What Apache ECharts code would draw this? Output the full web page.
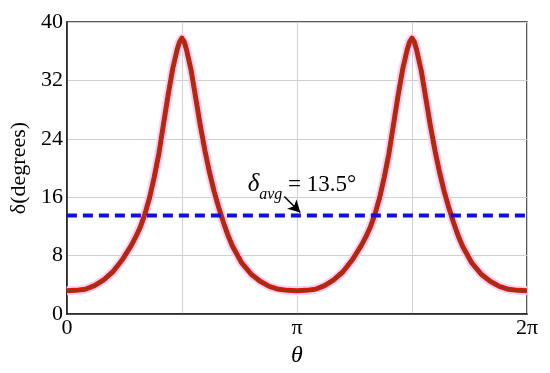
<!DOCTYPE html>
<html>
<head>
<meta charset="utf-8">
<script src="https://cdn.jsdelivr.net/npm/echarts@6/dist/echarts.min.js"></script>
<style>html,body{margin:0;padding:0;background:#fff}#c{width:550px;height:373px}</style>
</head>
<body>
<div id="c"></div>
<script>
// theta in units of pi, delta in degrees
var thetaOverPi = [
  0, 0.04, 0.08, 0.12, 0.16, 0.20, 0.24, 0.28, 0.30, 0.32, 0.34, 0.36, 0.38, 0.40, 0.42, 0.44, 0.46, 0.48, 0.49, 0.50,
  0.51, 0.52, 0.54, 0.56, 0.58, 0.60, 0.62, 0.64, 0.66, 0.68, 0.70, 0.72, 0.76, 0.80, 0.84, 0.88, 0.92, 0.96,
  1.00, 1.04, 1.08, 1.12, 1.16, 1.20, 1.24, 1.28, 1.30, 1.32, 1.34, 1.36, 1.38, 1.40, 1.42, 1.44, 1.46, 1.48, 1.49, 1.50,
  1.51, 1.52, 1.54, 1.56, 1.58, 1.60, 1.62, 1.64, 1.66, 1.68, 1.70, 1.72, 1.76, 1.80, 1.84, 1.88, 1.92, 1.96, 2.00];
var delta = [
  3.2, 3.25, 3.4, 3.9, 4.7, 5.8, 7.4, 9.4, 10.6, 12.0, 13.8, 16.0, 18.8, 22.0, 26.0, 30.0, 33.6, 36.3, 37.3, 37.8,
  37.3, 36.2, 33.4, 29.6, 25.8, 22.4, 19.4, 16.8, 14.6, 12.6, 10.8, 9.3, 7.0, 5.5, 4.5, 3.8, 3.4, 3.25,
  3.2, 3.25, 3.4, 3.9, 4.7, 5.8, 7.4, 9.4, 10.6, 12.0, 13.8, 16.0, 18.8, 22.0, 26.0, 30.0, 33.6, 36.3, 37.3, 37.8,
  37.3, 36.2, 33.4, 29.6, 25.8, 22.4, 19.4, 16.8, 14.6, 12.6, 10.8, 9.3, 7.0, 5.5, 4.5, 3.8, 3.4, 3.25, 3.2];
var deltaAvg = 13.5;
var xTickLabels = ['0', '', 'π', '', '2π'];
var yTicks = [0, 8, 16, 24, 32, 40];
var annotationText = ['δ', 'avg', ' = 13.5°'];
var annotationAnchor = [3.21, 18.0];
var arrowFrom = [2.969, 16.1];
var arrowTo = [3.187, 13.9];

var PI = Math.PI;
var curve = thetaOverPi.map(function (t, i) { return [t * PI, delta[i]]; });
var avgLine = [[0, deltaAvg], [2 * PI, deltaAvg]];
var serif = 'Liberation Serif, Times New Roman, serif';

var chart = echarts.init(document.getElementById('c'), null, {renderer: 'canvas'});
chart.setOption({
  animation: false,
  grid: {left: 65, right: 23, top: 22, bottom: 48, show: true, borderColor: '#222', borderWidth: 1.5, backgroundColor: 'transparent'},
  xAxis: {
    type: 'value', min: 0, max: 2 * PI, interval: PI / 2,
    axisLine: {show: true, lineStyle: {color: '#222', width: 1.5}},
    axisTick: {show: false},
    splitLine: {show: true, lineStyle: {color: '#d0d0d0', width: 1}},
    axisLabel: {
      margin: 3, color: '#000', fontFamily: serif, fontSize: 22,
      formatter: function (v) { return xTickLabels[Math.round(v / (PI / 2))] || ''; }
    },
    name: 'θ', nameLocation: 'middle', nameGap: 19,
    nameTextStyle: {fontFamily: serif, fontStyle: 'italic', fontSize: 24, color: '#000'}
  },
  yAxis: {
    type: 'value', min: yTicks[0], max: yTicks[yTicks.length - 1], interval: 8,
    axisLine: {show: true, lineStyle: {color: '#222', width: 1.5}},
    axisTick: {show: false},
    splitLine: {show: true, lineStyle: {color: '#d0d0d0', width: 1}},
    axisLabel: {margin: 4, color: '#000', fontFamily: serif, fontSize: 22},
    name: 'δ(degrees)', nameLocation: 'middle', nameGap: 26,
    nameTextStyle: {fontFamily: serif, fontSize: 22, color: '#000'}
  },
  series: [
    {type: 'line', data: curve, showSymbol: false, smooth: false,
     lineStyle: {color: '#fbd2f3', width: 9, join: 'round'}, z: 2},
    {type: 'line', data: curve, showSymbol: false, smooth: false,
     lineStyle: {color: '#e3120f', width: 5, join: 'round'}, z: 3},
    {type: 'line', data: curve, showSymbol: false, smooth: false,
     lineStyle: {color: '#7a4412', width: 1.8, join: 'round'}, z: 4},
    {type: 'line', data: avgLine, showSymbol: false,
     lineStyle: {color: '#1010d8', width: 4, type: [10, 6]}, z: 5,
     markLine: {
       silent: true, symbolSize: [10, 12],
       lineStyle: {color: '#000', width: 1.5, type: 'solid'},
       label: {show: false},
       data: [[{coord: arrowFrom, symbol: 'none'}, {coord: arrowTo, symbol: 'arrow'}]]
     }},
    {type: 'scatter', data: [annotationAnchor], symbolSize: 0, z: 6,
     itemStyle: {opacity: 1},
     label: {
       show: true, position: 'inside', opacity: 1,
       formatter: '{d|' + annotationText[0] + '}{s|' + annotationText[1] + '}{n|' + annotationText[2] + '}',
       rich: {
         d: {fontFamily: serif, fontStyle: 'italic', fontSize: 25, color: '#000', lineHeight: 28, verticalAlign: 'bottom'},
         s: {fontFamily: serif, fontStyle: 'italic', fontSize: 16, color: '#000', lineHeight: 16, verticalAlign: 'bottom', padding: [0, 0, -6, 0]},
         n: {fontFamily: serif, fontSize: 23, color: '#000', lineHeight: 28, verticalAlign: 'bottom'}
       }
     }}
  ]
});
</script>
</body>
</html>
